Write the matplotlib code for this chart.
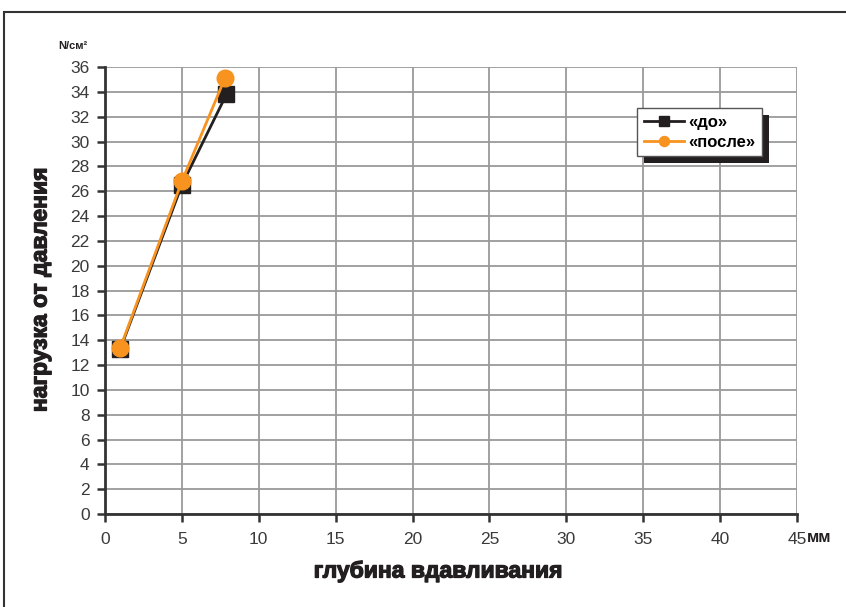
import matplotlib
matplotlib.use("Agg")
import matplotlib.pyplot as plt
import matplotlib.patheffects as pe
from matplotlib.patches import Rectangle

# data
depth_before = [1, 5, 7.9]
load_before = [13.3, 26.5, 33.8]
depth_after = [1, 5, 7.8]
load_after = [13.4, 26.8, 35.1]

x_ticks = [0, 5, 10, 15, 20, 25, 30, 35, 40, 45]
y_ticks = list(range(0, 37, 2))

black = "#231f20"
orange = "#f7931e"

plt.rcParams["font.family"] = ["Liberation Sans", "DejaVu Sans"]

fig = plt.figure(figsize=(8.46, 6.07), dpi=100)
ax = fig.add_axes([105 / 846, 93 / 607, 692 / 846, 447 / 607])

ax.plot(depth_before, load_before, color=black, lw=2, marker="s", ms=11,
        label="«до»", zorder=3)
ax.plot(depth_after, load_after, color=orange, lw=2, marker="o", ms=12,
        label="«после»", zorder=4)

ax.set_xlim(0, 45)
ax.set_ylim(0, 36)
ax.set_xticks(x_ticks)
ax.set_yticks(y_ticks)
ax.grid(True, color="#9a9a9a", lw=1.3)
ax.set_axisbelow(True)
for s in ["top", "right"]:
    ax.spines[s].set_visible(False)
for s in ["left", "bottom"]:
    ax.spines[s].set_color("#333333")
    ax.spines[s].set_linewidth(2)
ax.tick_params(colors="#333333", labelcolor="#3a3a3a", labelsize=12.5,
               width=1.8, length=6)
ax.tick_params(axis="x", pad=7)
ax.tick_params(axis="y", pad=5)

fig.text(807 / 846, 1 - 538 / 607, "мм", fontsize=12, fontweight="bold",
         ha="left", va="center", color=black)
fig.text(73 / 846, 1 - 46 / 607, "N/см²", fontsize=8, fontweight="bold",
         ha="center", va="center", color=black)

heavy = [pe.withStroke(linewidth=0.9, foreground=black)]
fig.text(438 / 846, 1 - 571 / 607, "глубина вдавливания", fontsize=16.5,
         fontweight="bold", ha="center", va="center", color=black,
         path_effects=heavy)
fig.text(40 / 846, 1 - 290 / 607, "нагрузка от давления", fontsize=16.5,
         fontweight="bold", ha="center", va="center", rotation=90,
         color=black, path_effects=heavy)

leg = ax.legend(loc="upper left", bbox_to_anchor=(637 / 846, 1 - 108 / 607),
                bbox_transform=fig.transFigure, fancybox=False,
                edgecolor="#555555", framealpha=1, borderaxespad=0,
                prop={"weight": "bold", "size": 12}, handlelength=2.4,
                borderpad=0.4, labelspacing=0.3, handletextpad=0.3,
                markerscale=0.6)
leg.get_frame().set_linewidth(1)
leg.set_zorder(10)

# offset dark shadow behind legend box
fig.canvas.draw()
bb = leg.get_window_extent().transformed(fig.transFigure.inverted())
shadow = Rectangle((bb.x0 + 7 / 846, bb.y0 - 7 / 607), bb.width, bb.height,
                   transform=fig.transFigure, facecolor=black, edgecolor="none",
                   zorder=9)
ax.add_artist(shadow)
shadow.set_clip_on(False)

# outer frame
frame = Rectangle((4 / 846, -0.2), 1.2, 1.2 - 12 / 607, transform=fig.transFigure,
                  fill=False, edgecolor="#333333", lw=1.5)
fig.add_artist(frame)

fig.savefig("out.png", dpi=100)
